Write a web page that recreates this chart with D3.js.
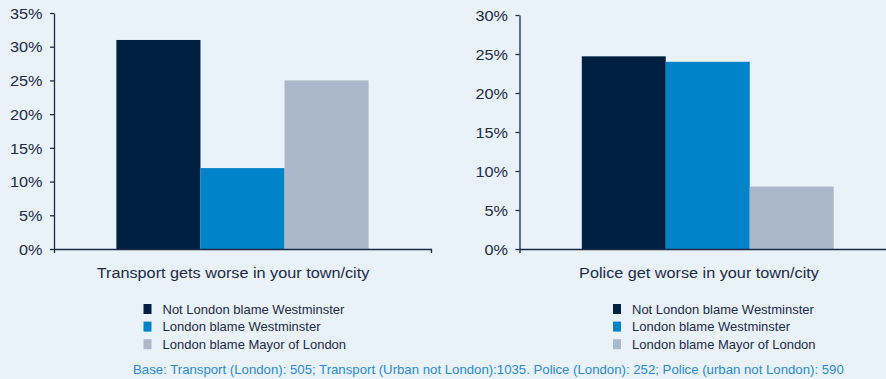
<!DOCTYPE html>
<html>
<head>
<meta charset="utf-8">
<script src="https://cdn.jsdelivr.net/npm/d3@7"></script>
<style>
  html, body { margin: 0; padding: 0; background: #e9f1f9; }
  svg { display: block; font-family: "Liberation Sans", Arial, Helvetica, sans-serif; }
</style>
</head>
<body>
<svg id="chart" width="886" height="379"></svg>
<script>
// Survey series (shared by both panels)
const series = ["Not London blame Westminster", "London blame Westminster", "London blame Mayor of London"];
const seriesColors = ["#002042", "#0083c9", "#abb7ca"];

// Panel categories
const categories = ["Transport gets worse in your town/city", "Police get worse in your town/city"];

// Share of respondents (%) per series
const transportValues = [31, 12, 25];
const policeValues = [24.7, 24, 8];

// Axis tick values (%)
const transportTicks = [0, 5, 10, 15, 20, 25, 30, 35];
const policeTicks = [0, 5, 10, 15, 20, 25, 30];

const baseNote = "Base: Transport (London): 505; Transport (Urban not London):1035. Police (London): 252; Police (urban not London): 590";

const svg = d3.select("#chart");
const inkColor = "#1d2c46";
const axisColor = "#1b2a44";
const stretch = 1.12;

const panels = [
  { label: categories[0], values: transportValues, ticks: transportTicks, max: 35, x0: 54, x1: 431, top: 13, bottom: 249, labelX: 233 },
  { label: categories[1], values: policeValues, ticks: policeTicks, max: 30, x0: 519.5, x1: 896, top: 15, bottom: 249, labelX: 699 }
];

panels.forEach(p => {
  const g = svg.append("g");
  const y = d3.scaleLinear().domain([0, p.max]).range([p.bottom, p.top]);
  const x = d3.scaleBand().domain(series).range([p.x0, p.x1]).paddingInner(0).paddingOuter(0.742);

  // bars
  g.selectAll("rect.bar")
    .data(series.map((s, i) => ({ s, v: p.values[i], c: seriesColors[i] })))
    .join("rect")
    .attr("class", "bar")
    .attr("x", d => x(d.s))
    .attr("width", x.bandwidth())
    .attr("y", d => y(d.v))
    .attr("height", d => y(0) - y(d.v))
    .attr("fill", d => d.c);

  // value axis
  const ya = g.append("g")
    .attr("transform", `translate(${p.x0},0)`)
    .call(d3.axisLeft(y).tickValues(p.ticks).tickFormat(d => d + "%").tickSize(4).tickSizeOuter(0));
  ya.select(".domain").attr("stroke", axisColor).attr("stroke-width", 1.3);
  ya.selectAll(".tick line").attr("stroke", axisColor).attr("stroke-width", 1.3);
  ya.selectAll(".tick text")
    .attr("x", 0)
    .attr("dy", "0.36em")
    .attr("transform", `translate(-11.5,0) scale(${stretch},1)`)
    .attr("fill", inkColor)
    .style("font-size", "14.5px")
    .style("font-family", "'Liberation Sans', Arial, sans-serif");

  // category baseline with end ticks
  const xa = g.append("g")
    .attr("transform", `translate(0,${p.bottom})`)
    .call(d3.axisBottom(d3.scaleLinear().range([p.x0, p.x1])).tickValues([]).tickSizeOuter(4));
  xa.select(".domain").attr("stroke", axisColor).attr("stroke-width", 1.3);

  // category label
  g.append("text")
    .attr("transform", `translate(${p.labelX},278) scale(${stretch},1)`)
    .attr("text-anchor", "middle")
    .attr("fill", inkColor)
    .style("font-size", "14.5px")
    .text(p.label);
});

// legends
const legendX = [143.5, 613];
legendX.forEach(lx => {
  const lg = svg.append("g").attr("transform", `translate(${lx},0)`);
  const rows = lg.selectAll("g")
    .data(series)
    .join("g")
    .attr("transform", (d, i) => `translate(0,${309 + i * 17.6})`);
  rows.append("rect")
    .attr("x", 0).attr("y", -5)
    .attr("width", 8).attr("height", 10)
    .attr("fill", (d, i) => seriesColors[i]);
  rows.append("text")
    .attr("x", 19).attr("dy", "0.35em")
    .attr("fill", inkColor)
    .style("font-size", "13px")
    .text(d => d);
});

// base note
svg.append("text")
  .attr("transform", "translate(133,374) scale(1.1,1)")
  .attr("fill", "#2a8dd2")
  .style("font-size", "12px")
  .text(baseNote);
</script>
</body>
</html>
